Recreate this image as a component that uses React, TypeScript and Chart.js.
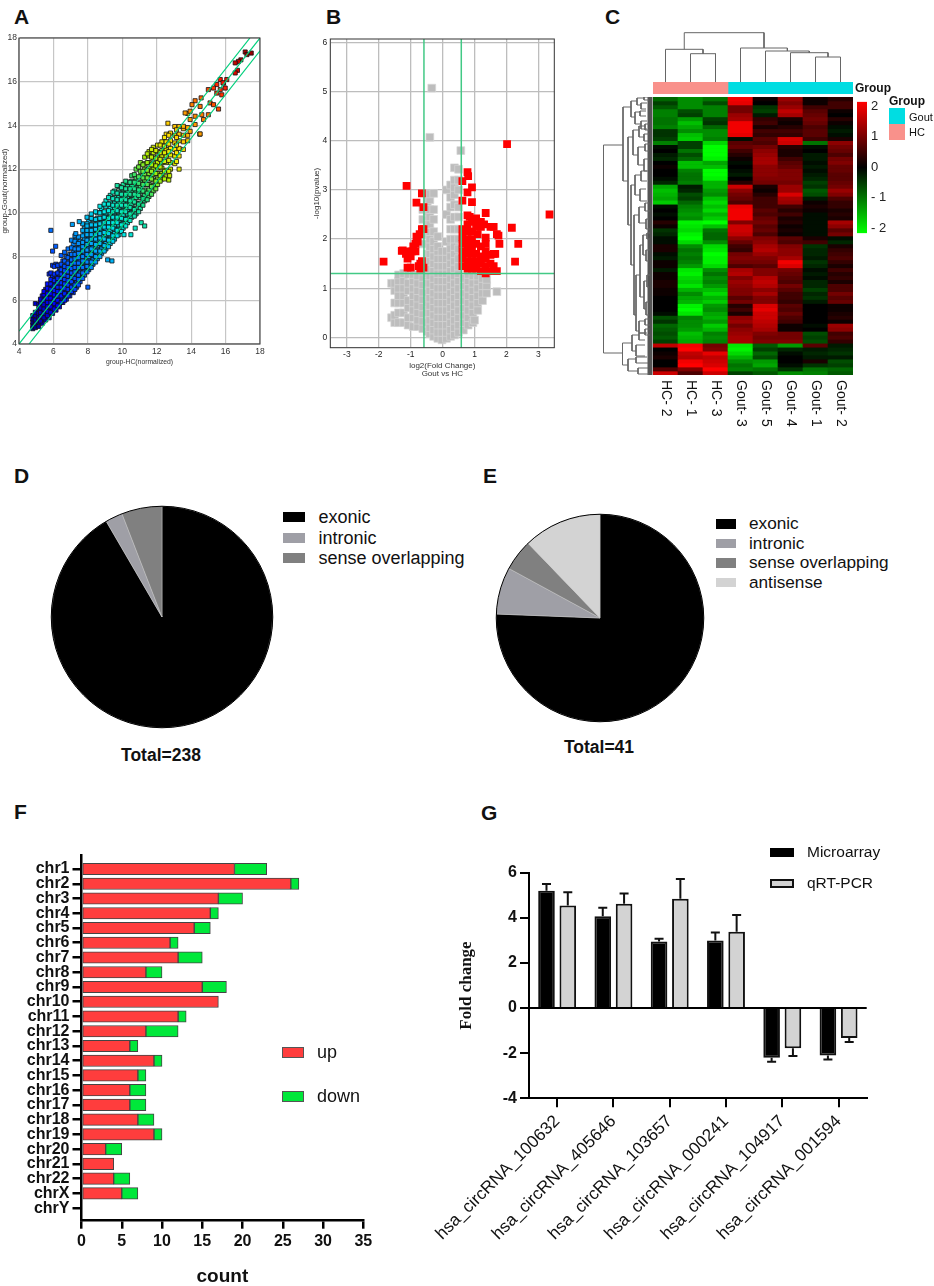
import React, { useEffect, useRef } from 'react';
import { Chart, registerables } from 'chart.js';

Chart.register(...registerables);
Chart.defaults.font.family = "'Liberation Sans', Arial, sans-serif";
Chart.defaults.color = '#222';

// Panel A: x column, then the y values read in that column
const scatterColumns: [number, number[]][] = [
  [4.8, [4.7, 4.85, 5, 5.15, 5.3]],
  [4.95, [4.75, 4.95, 5.1, 5.3, 5.45, 5.85]],
  [5.15, [4.8, 5, 5.2, 5.4, 5.6, 5.8]],
  [5.35, [4.95, 5.15, 5.35, 5.55, 5.75, 5.95, 6.2]],
  [5.55, [5.1, 5.3, 5.5, 5.7, 5.9, 6.1, 6.3, 6.5]],
  [5.75, [5.2, 5.4, 5.6, 5.8, 6, 6.2, 6.4, 6.6, 7.2]],
  [5.95, [5.4, 5.6, 5.8, 6, 6.2, 6.4, 6.6, 6.8, 7.1, 7.6]],
  [6.15, [5.55, 5.75, 5.95, 6.15, 6.35, 6.55, 6.75, 6.95, 7.15, 7.65]],
  [6.35, [5.7, 5.9, 6.1, 6.3, 6.5, 6.7, 6.9, 7.1, 7.3, 7.5]],
  [6.55, [5.9, 6.1, 6.3, 6.5, 6.7, 6.9, 7.1, 7.3, 7.5, 7.8]],
  [6.75, [6.05, 6.25, 6.45, 6.65, 6.85, 7.05, 7.25, 7.45, 7.65, 8]],
  [6.95, [6.2, 6.4, 6.6, 6.8, 7, 7.2, 7.4, 7.6, 7.8, 8.1]],
  [7.15, [6.35, 6.55, 6.75, 6.95, 7.15, 7.35, 7.55, 7.75, 7.95, 8.2, 8.55]],
  [7.35, [6.6, 6.8, 7, 7.2, 7.4, 7.6, 7.8, 8, 8.2, 8.4, 8.8]],
  [7.55, [6.85, 7.05, 7.25, 7.45, 7.65, 7.85, 8.05, 8.25, 8.5, 8.7]],
  [7.8, [7.15, 7.35, 7.55, 7.75, 7.95, 8.15, 8.35, 8.55, 8.8, 9.05, 9.3]],
  [8.05, [7.4, 7.6, 7.8, 8, 8.2, 8.4, 8.6, 8.8, 9, 9.25, 9.6]],
  [8.3, [7.65, 7.85, 8.05, 8.25, 8.45, 8.65, 8.85, 9.05, 9.25, 9.45, 9.7]],
  [8.55, [7.9, 8.1, 8.3, 8.5, 8.7, 8.9, 9.1, 9.3, 9.5, 9.75, 10]],
  [8.8, [8.15, 8.35, 8.55, 8.75, 8.95, 9.15, 9.35, 9.55, 9.75, 10, 10.2]],
  [9.05, [8.35, 8.6, 8.8, 9, 9.2, 9.4, 9.6, 9.8, 10, 10.3, 10.55]],
  [9.3, [8.6, 8.8, 9, 9.2, 9.4, 9.6, 9.8, 10, 10.2, 10.45, 10.8]],
  [9.55, [8.8, 9.05, 9.25, 9.45, 9.65, 9.85, 10.05, 10.25, 10.45, 10.7, 11]],
  [9.8, [9, 9.25, 9.45, 9.65, 9.85, 10.05, 10.25, 10.45, 10.7, 10.95, 11.2]],
  [10.05, [9.3, 9.5, 9.7, 9.9, 10.1, 10.3, 10.5, 10.7, 10.9, 11.1, 11.3]],
  [10.3, [9.55, 9.75, 9.95, 10.15, 10.35, 10.55, 10.75, 10.95, 11.2, 11.4]],
  [10.55, [9.8, 10, 10.2, 10.4, 10.6, 10.8, 11, 11.2, 11.45, 11.7]],
  [10.8, [9.95, 10.2, 10.45, 10.7, 10.95, 11.15, 11.35, 11.6, 12]],
  [11.05, [10.2, 10.45, 10.7, 10.95, 11.2, 11.4, 11.65, 11.9, 12.3]],
  [11.3, [10.55, 10.8, 11.05, 11.3, 11.5, 11.75, 12, 12.25, 12.55]],
  [11.55, [10.75, 11.05, 11.3, 11.55, 11.8, 12.05, 12.3, 12.6, 12.8]],
  [11.8, [11, 11.25, 11.5, 11.75, 12, 12.25, 12.5, 12.75, 13]],
  [12.05, [11.3, 11.55, 11.8, 12.05, 12.3, 12.55, 12.8, 13.1]],
  [12.3, [11.55, 11.8, 12.05, 12.3, 12.6, 12.85, 13.25]],
  [12.55, [11.65, 11.95, 12.3, 12.6, 12.9, 13.25, 13.6]],
  [12.8, [12, 12.3, 12.65, 12.95, 13.3, 13.65]],
  [13.05, [12.25, 12.6, 12.9, 13.2, 13.55, 13.95]],
  [13.3, [12.6, 12.95, 13.3, 13.6, 13.95]],
  [13.55, [12.9, 13.25, 13.55, 13.85]],
  [13.8, [13.3, 13.55, 13.9, 14.55]],
  [5.25, [5.05, 5.25, 5.45, 5.65, 5.9, 6.05]],
  [5.45, [5.2, 5.4, 5.6, 5.8, 6, 6.25, 6.4]],
  [5.65, [5.3, 5.5, 5.7, 5.9, 6.1, 6.3, 6.55, 6.75]],
  [5.85, [5.45, 5.7, 5.9, 6.1, 6.3, 6.5, 6.75, 6.95, 7.25]],
  [6.05, [5.6, 5.85, 6.05, 6.25, 6.45, 6.65, 6.9, 7.2, 7.55]],
  [6.25, [5.75, 6, 6.2, 6.4, 6.6, 6.8, 7, 7.25, 7.6]],
  [6.45, [5.9, 6.2, 6.4, 6.6, 6.8, 7, 7.2, 7.4, 7.65, 8.05]],
  [6.65, [6, 6.3, 6.55, 6.75, 6.95, 7.15, 7.35, 7.55, 7.8, 8.2]],
  [6.85, [6.2, 6.5, 6.7, 6.9, 7.1, 7.3, 7.5, 7.7, 7.95, 8.35]],
  [7.05, [6.4, 6.6, 6.85, 7.05, 7.25, 7.45, 7.65, 7.85, 8.1, 8.4, 8.75]],
  [7.25, [6.5, 6.7, 7, 7.3, 7.5, 7.7, 7.9, 8.1, 8.35, 8.7, 8.95]],
  [7.45, [6.7, 6.95, 7.15, 7.5, 7.7, 7.95, 8.15, 8.35, 8.6, 8.9]],
  [7.7, [7, 7.25, 7.5, 7.8, 8, 8.25, 8.45, 8.65, 8.95, 9.2, 9.5]],
  [7.95, [7.3, 7.55, 7.75, 8.1, 8.3, 8.55, 8.75, 9, 9.2, 9.5, 9.8]],
  [8.2, [7.5, 7.75, 8.1, 8.35, 8.6, 8.8, 9, 9.2, 9.45, 9.75, 9.95]],
  [8.45, [7.75, 8, 8.25, 8.55, 8.8, 9, 9.25, 9.45, 9.7, 10.05]],
  [8.7, [8, 8.25, 8.6, 8.85, 9.05, 9.3, 9.5, 9.75, 10, 10.3]],
  [8.95, [8.25, 8.5, 8.8, 9.1, 9.35, 9.55, 9.8, 10.05, 10.4]],
  [9.2, [8.45, 8.75, 9.05, 9.35, 9.55, 9.75, 10.1, 10.4, 10.7]],
  [9.45, [8.7, 8.95, 9.3, 9.55, 9.8, 10.05, 10.35, 10.65, 10.95]],
  [9.7, [8.95, 9.2, 9.55, 9.8, 10.1, 10.35, 10.6, 10.9, 11.25]],
  [9.95, [9.15, 9.45, 9.75, 10.05, 10.35, 10.6, 10.85, 11.15]],
  [10.2, [9.4, 9.7, 10.05, 10.35, 10.6, 10.85, 11.1, 11.45]],
  [10.45, [9.65, 9.95, 10.25, 10.55, 10.85, 11.1, 11.4]],
  [10.7, [9.85, 10.15, 10.5, 10.85, 11.1, 11.4, 11.75]],
  [10.95, [10.05, 10.4, 10.8, 11.05, 11.35, 11.65, 12.1]],
  [11.2, [10.35, 10.65, 11, 11.3, 11.6, 11.9, 12.2]],
  [11.45, [10.6, 10.9, 11.3, 11.6, 11.95, 12.3, 12.7]],
  [11.7, [10.85, 11.2, 11.55, 11.9, 12.2, 12.55, 12.9]],
  [11.95, [11.1, 11.45, 11.8, 12.15, 12.5, 12.85]],
  [12.2, [11.45, 11.7, 12.1, 12.45, 12.75, 13.1]],
  [12.45, [11.55, 11.9, 12.35, 12.75, 13.05, 13.45]],
  [12.7, [11.9, 12.4, 12.8, 13.15, 13.55]],
  [13.15, [12.35, 12.75, 13.1, 13.45, 13.8]],
];
const scatterExtras: [number, number][] = [
  [5.85, 9.2], [6.13, 8.47], [5.95, 8.25], [7.1, 9.47], [7.5, 9.6], [7.3, 9.05], [7.95, 9.4], [9.15, 7.85],
  [9.4, 7.8], [10.1, 9], [10.5, 9], [11.1, 9.55], [11.3, 9.4], [10.75, 9.3], [12.65, 14.1], [12.7, 11.5],
  [12.75, 11.7], [13.3, 12], [14.5, 13.6], [8, 6.6], [17.14, 17.36], [17.49, 17.31], [17.24, 17.24], [16.89, 17],
  [16.75, 16.93], [16.56, 16.86], [16.69, 16.52], [16.56, 16.4], [15.69, 16.1], [16.07, 16.1], [15.88, 15.94],
  [15.49, 15.87], [15.98, 15.71], [15.69, 15.64], [15.49, 15.48], [15.78, 15.4], [15.3, 15.71], [15, 15.64],
  [14.58, 15.26], [14.23, 15.13], [15.1, 15.03], [15.3, 14.95], [15.59, 14.75], [14.52, 14.87], [13.94, 14.65],
  [13.65, 14.57], [14.62, 14.49], [14.23, 14.42], [15, 14.49], [13.94, 14.27], [14.72, 14.27], [14.23, 14.04],
  [14.52, 13.61], [13.55, 13.96], [13.94, 13.73], [14.05, 14.95], [15.85, 15.95],
];
const scatterCenterLine = [[4, 4], [18, 18]];
const scatterUpperLine = [[4, 4.585], [17.415, 18]];
const scatterLowerLine = [[4.585, 4], [18, 17.415]];

// Panel B volcano
const volcanoGrayColumns: [number, number[]][] = [
  [-1.6, [0.4, 1.1]],
  [-1.5, [0.3, 0.45, 0.7, 0.95, 1.1]],
  [-1.38, [0.3, 0.5, 0.7, 0.85, 1, 1.15, 1.27]],
  [-1.22, [0.3, 0.5, 0.7, 0.85, 1, 1.15, 1.3]],
  [-1.08, [0.25, 0.4, 0.6, 0.75, 0.95, 1.1, 1.28]],
  [-0.92, [0.22, 0.4, 0.55, 0.7, 0.85, 1, 1.15, 1.28]],
  [-0.78, [0.22, 0.35, 0.5, 0.65, 0.8, 0.95, 1.1, 1.25]],
  [-0.62, [0.18, 0.33, 0.48, 0.62, 0.77, 0.92, 1.07, 1.22, 1.35, 1.5, 1.9, 2.4, 2.6]],
  [-0.48, [0.12, 0.3, 0.5, 0.7, 0.9, 1.1, 1.3, 1.5, 1.7, 1.9, 2.1, 2.3, 2.55, 2.75, 2.82]],
  [-0.4, [0.08, 0.2, 0.35, 0.5, 0.65, 0.8, 0.95, 1.1, 1.25, 1.4, 1.55, 1.7, 1.85, 2, 2.15, 2.3, 2.45, 2.6, 2.8, 2.92, 4.07]],
  [-0.34, [5.07]],
  [-0.28, [0.02, 0.15, 0.3, 0.45, 0.6, 0.75, 0.9, 1.05, 1.2, 1.35, 1.5, 1.65, 1.8, 1.95, 2.15, 2.4, 2.6, 2.93]],
  [-0.15, [-0.02, 0.1, 0.25, 0.4, 0.55, 0.7, 0.85, 1, 1.15, 1.3, 1.45, 1.6, 1.75, 1.85, 2.05]],
  [-0.02, [-0.05, 0.1, 0.25, 0.4, 0.55, 0.7, 0.85, 1, 1.15, 1.3, 1.45, 1.6, 1.75]],
  [0.12, [-0.02, 0.1, 0.25, 0.4, 0.55, 0.7, 0.85, 1, 1.15, 1.3, 1.45, 1.6, 1.75, 1.95, 2.5, 3]],
  [0.25, [0.02, 0.15, 0.3, 0.45, 0.6, 0.75, 0.9, 1.05, 1.2, 1.35, 1.5, 1.65, 1.8, 2, 2.2, 2.4, 2.65, 2.85, 3.1]],
  [0.37, [0.05, 0.2, 0.35, 0.5, 0.65, 0.8, 0.95, 1.1, 1.25, 1.4, 1.55, 1.7, 1.85, 2, 2.2, 2.45, 2.7, 2.9, 3.05, 3.2, 3.45]],
  [0.5, [0.1, 0.25, 0.4, 0.55, 0.7, 0.85, 1, 1.15, 1.3, 1.45, 1.6, 1.8, 2, 2.2, 2.45, 2.65, 3, 3.2, 3.42]],
  [0.57, [3.8]],
  [0.65, [0.15, 0.3, 0.45, 0.6, 0.75, 0.9, 1.05, 1.2]],
  [0.8, [0.25, 0.4, 0.55, 0.7, 0.85, 1, 1.15, 1.28]],
  [0.95, [0.3, 0.5, 0.65, 0.8, 0.95, 1.1, 1.25]],
  [1, [0.35]],
  [1.1, [0.55, 0.7, 0.85, 1, 1.15, 1.25]],
  [1.25, [0.75, 0.9, 1.05, 1.2]],
  [1.38, [0.9, 1.05, 1.18]],
  [1.7, [0.93]],
];
const volcanoRedColumns: [number, number[]][] = [
  [0.62, [1.45, 1.6, 1.75, 1.9, 2.05, 2.2, 2.78, 3.18]],
  [0.78, [1.4, 1.55, 1.7, 1.85, 2, 2.15, 2.3, 2.48, 2.95, 3.36]],
  [0.92, [1.4, 1.55, 1.7, 1.85, 2, 2.15, 2.4, 2.75, 3.05]],
  [1.05, [1.4, 1.55, 1.7, 1.9, 2.25, 2.42]],
  [1.2, [1.35, 1.5, 1.65, 1.85, 2.25, 2.35]],
  [1.35, [1.3, 1.45, 1.6, 1.75, 1.9, 2.03, 2.53]],
  [1.5, [1.35, 1.5, 1.68, 2.25]],
  [1.6, [1.45, 1.7, 2.25]],
  [1.7, [1.35, 2.1]],
];
const volcanoRedExtras: [number, number][] = [
  [0.8, 3.28], [1.75, 2.07], [1.78, 1.9], [2.17, 2.23], [2.37, 1.9], [2.27, 1.54], [2.02, 3.93], [3.35, 2.5],
  [-1.13, 3.08], [-0.65, 2.93], [-0.82, 2.74], [-0.6, 2.65], [-0.6, 2.2], [-0.72, 2.1], [-0.82, 2.05], [-0.85, 1.9],
  [-0.92, 1.85], [-0.95, 1.75], [-1.25, 1.77], [-1.1, 1.75], [-1, 1.65], [-1.1, 1.6], [-1.1, 1.42], [-0.7, 1.5],
  [-0.7, 1.4], [-0.6, 1.42], [-1.85, 1.54], [-1, 1.42], [-0.65, 2.2], [-0.78, 1.95], [-0.85, 1.75], [-1.15, 1.7],
  [-1.28, 1.76], [-0.75, 1.45], [-0.65, 1.55], [1.1, 2.1], [1, 2.35], [1.3, 2.3], [0.85, 2.45], [1.65, 1.7],
];
const volcanoFoldCuts = [-0.585, 0.585];
const volcanoPCut = 1.3;

// Panel C heatmap, one row per band, columns as in sampleLabels
const sampleLabels = ['HC- 2', 'HC- 1', 'HC- 3', 'Gout- 3', 'Gout- 5', 'Gout- 4', 'Gout- 1', 'Gout- 2'];
const heatRows: number[][] = [
  [-0.8, -1.1, -0.9, 1.9, 0.1, 1.2, 0.1, 0.3],
  [-0.5, -1.1, -0.6, 1.8, 0, 1, 0.1, 0.5],
  [-0.7, -1.1, -1, 0.9, -0.4, 1.2, 0.5, 0.5],
  [-1, -0.6, -1, 0.9, -0.5, 1.5, 0.7, 0.1],
  [-1, -0.5, -1, 1.2, -0.2, 1.3, 0.8, 0],
  [-0.9, -1.2, -0.5, 1.3, 0.4, 0.2, 0.9, 0.3],
  [-0.9, -1.5, -0.4, 1.9, 0.5, 0.1, 0.8, 0.1],
  [-1, -1.3, -0.8, 1.9, 0.2, 0.3, 0.6, -0.1],
  [-0.4, -1.1, -1.1, 1.9, 0.5, 0.5, 0.7, -0.2],
  [-0.4, -1.5, -1.1, 1.8, 0.4, 0.4, 0.7, -0.1],
  [-0.5, -1.6, -1, -0.1, 0.7, 1.7, 0.5, 0.2],
  [-1, -0.5, -1.7, 0.7, 0.6, 1.6, -0.9, 1.1],
  [-0.1, -0.5, -2, 0.8, 0.9, 0.3, -0.1, 0.9],
  [0, -0.9, -2, 0.5, 1.1, 0.2, 0, 0.8],
  [-0.2, -0.6, -2, 0.3, 1.2, 0.2, -0.2, 0.6],
  [-0.3, -0.8, -1.9, 0.1, 1.3, 0.5, -0.2, 0.9],
  [0, -1.5, -1.3, -0.1, 1.3, 0.7, -0.1, 1],
  [0.1, -1.5, -1.5, 0, 1.1, 0.8, -0.2, 0.8],
  [0, -1, -2, -0.1, 1.1, 1, -0.1, 0.8],
  [0, -0.9, -2, -0.2, 1.1, 1, -0.2, 0.7],
  [-0.1, -0.9, -1.9, 0, 1, 1, -0.3, 0.7],
  [-0.3, -1, -1.4, 0.3, 0.9, 0.9, -0.5, 0.8],
  [-1.3, -0.2, -1.4, 1.6, 0.2, 1.2, -0.4, 0.9],
  [-1.5, -0.3, -1.2, 1.1, 0.1, 1.2, -0.7, 1.2],
  [-1.4, -0.6, -1.1, 0.9, 0.3, 1.7, -0.6, 1],
  [-1.3, -0.5, -1.5, 0.8, 0.5, 1.3, -0.2, 0.6],
  [-1.6, -0.8, -1.7, 0.6, 0.5, 1.2, 0.1, 0.4],
  [-0.1, -1, -1.5, 1.8, 0.5, 0.5, 0.2, 0.4],
  [0, -1.1, -1.7, 1.9, 0.7, 0.3, 0.1, 0.2],
  [-0.1, -1.2, -1.4, 1.9, 0.6, 0.5, -0.1, 0.3],
  [0, -1.1, -1.6, 1.9, 0.8, 0.2, -0.1, 0.2],
  [0.3, -1.9, -2, 1, 0.9, 0.3, -0.1, 1.3],
  [0.1, -1.8, -1.5, 1.6, 0.7, 0.1, -0.1, 1.1],
  [-0.4, -1.7, -0.9, 1.6, 0.8, 0.2, -0.1, 0.7],
  [-0.3, -1.9, -0.8, 1.5, 0.6, 0.1, -0.1, 0.9],
  [-0.1, -2, -0.8, 1.1, 1, 0.7, 0.2, -0.1],
  [-0.1, -1.7, -1.1, 0.8, 1.1, 0.6, 0.5, -0.3],
  [0.2, -1.1, -1.7, 0.5, 1.3, 1, -0.4, 0.2],
  [0.2, -0.9, -1.8, 0.4, 1.4, 1.1, -0.3, 0.4],
  [-0.1, -1, -2, 0.9, 1.2, 1.1, -0.3, 0.5],
  [-0.2, -0.9, -1.9, 1, 1, 1.3, -0.2, 0.6],
  [0.1, -1, -1.9, 0.9, 0.9, 1.9, -0.4, 0.4],
  [0.1, -1.2, -1.7, 0.6, 0.7, 1.7, -0.3, 0.2],
  [-0.2, -1.8, -1.1, 1.3, 1, 0.9, -0.1, 0.5],
  [0.1, -1.9, -0.9, 1.4, 1, 0.8, -0.2, 0.3],
  [0.1, -1.7, -1.1, 1, 1.4, 0.7, -0.1, 0.4],
  [0.2, -1.6, -1, 1.2, 1.5, 0.6, -0.3, 0.2],
  [0.2, -1.8, -1.2, 1.1, 1.4, 0.9, -0.3, 0.6],
  [0.1, -1.4, -1.5, 1, 1.1, 0.7, -0.5, 0.6],
  [0.1, -1.1, -1.7, 1, 1.3, 0.5, -0.3, 0.9],
  [0, -1.3, -1.4, 0.7, 1, 0.5, -0.4, 0.7],
  [0, -1.4, -1.6, 0.9, 1, 0.4, -0.2, 0.8],
  [0, -1.9, -1.2, 0.3, 1.7, 0.7, 0, 0.1],
  [0, -2, -1.1, 0.5, 1.8, 0.6, 0, 0.1],
  [-0.1, -1.8, -1.3, 0.2, 1.6, 0.8, 0, 0.2],
  [-0.6, -1, -1.4, 1.1, 1.6, 0.6, 0, 0.3],
  [-0.4, -1.1, -1.2, 1.2, 1.5, 0.5, 0, 0.1],
  [-0.8, -1.1, -1.6, 0.9, 1.4, 0.1, -0.1, 1.2],
  [-0.7, -1.2, -1.4, 1.1, 1.3, 0.1, 0, 1.1],
  [-0.6, -1.5, -1, 1.2, 1, 0.9, -0.6, 0.5],
  [-0.7, -1.4, -1.1, 1.3, 0.9, 0.9, -0.5, 0.6],
  [-0.5, -1.3, -1, 1.3, 1, 1, -0.6, 0.4],
  [1.5, 1.9, 0.9, -1.8, -0.7, -1.2, 0.7, -0.2],
  [0, 2, 1, -1.9, -0.5, -0.3, -0.2, -0.3],
  [0.1, 1.5, 1.8, -1.7, -0.8, -0.1, -0.3, -0.4],
  [0.2, 1.4, 1.5, -1.4, -0.6, 0, -0.2, -0.2],
  [0, 1.9, 1.6, -1.1, -1.2, 0, 0.2, -0.6],
  [0, 2, 1.7, -0.9, -1.3, -0.1, -0.4, -0.5],
  [0.6, 1, 2, -1, -0.9, -0.4, -0.9, -0.8],
  [1.6, 0.6, 1.6, -0.5, -0.7, -1.1, -1, -0.7],
];
const groupNames = ['HC', 'Gout'];
const groupSizes = [3, 5];
const colorbarTicks = [2, 1, 0, -1, -2];

// dendrogram merges: height, first child pos, second child pos, first child height, second child height
const topMerges = [
  [49.3, 1.25, 4.44, 32.7, 34],
  [32.7, 0.5, 2, 0, 28.3],
  [28.3, 1.5, 2.5, 0, 0],
  [34, 3.5, 5.375, 0, 31],
  [31, 4.5, 6.25, 0, 29.3],
  [29.3, 5.5, 7, 0, 25],
  [25, 6.5, 7.5, 0, 0],
];
const leftMerges = [
  [0.5, 48, 256, 20, 19.5],
  [20, 10, 84, 28, 25],
  [28, 4, 20, 34, 32],
  [34, 1, 8, 41, 38],
  [41, 0, 3, 46, 46],
  [38, 6, 12, 44, 43],
  [32, 15, 27, 37, 38],
  [37, 14, 19, 43, 43],
  [38, 24, 32, 44, 44],
  [25, 40, 128, 30, 28],
  [30, 33, 58, 36, 35],
  [36, 29, 40, 42, 41],
  [42, 27, 33, 46, 46],
  [41, 37, 44, 46, 45],
  [35, 50, 68, 42, 41],
  [42, 47, 54, 47, 46],
  [41, 62, 74, 46, 45],
  [28, 88, 168, 32, 31],
  [32, 78, 98, 38, 37],
  [38, 74, 84, 44, 44],
  [37, 92, 104, 43, 44],
  [31, 118, 218, 36, 33],
  [36, 110, 126, 42, 43],
  [42, 106, 114, 46, 47],
  [43, 122, 132, 46, 47],
  [33, 178, 234, 37, 36],
  [37, 148, 200, 40, 41],
  [40, 138, 158, 44, 43],
  [44, 136, 142, 47, 47],
  [43, 153, 164, 47, 46],
  [41, 184, 212, 44, 43],
  [44, 178, 190, 47, 46],
  [43, 205, 218, 46, 46],
  [36, 224, 236, 42, 42],
  [42, 222, 228, 47, 47],
  [42, 232, 238, 47, 47],
  [19.5, 246, 268, 29, 25],
  [29, 238, 254, 36, 33],
  [36, 236, 243, 44, 42],
  [33, 248, 259, 42, 42],
  [25, 262, 274, 33, 35],
  [33, 260, 266, 44, 45],
  [35, 271, 277, 45, 46],
];
const leftDendroBlock = [[47, 0], [47, 278]];

const pieDLabels = ['exonic', 'intronic', 'sense overlapping'];
const pieDValues = [218, 6, 14];
const pieELabels = ['exonic', 'intronic', 'sense overlapping', 'antisense'];
const pieEValues = [31, 3, 2, 5];
const pieColors = ['#000000', '#9f9fa6', '#808080', '#d3d3d3'];

const chrLabels = ['chr1', 'chr2', 'chr3', 'chr4', 'chr5', 'chr6', 'chr7', 'chr8', 'chr9', 'chr10', 'chr11', 'chr12',
  'chr13', 'chr14', 'chr15', 'chr16', 'chr17', 'chr18', 'chr19', 'chr20', 'chr21', 'chr22', 'chrX', 'chrY'];
const upCounts = [19, 26, 17, 16, 14, 11, 12, 8, 15, 17, 12, 8, 6, 9, 7, 6, 6, 7, 9, 3, 4, 4, 5, 0];
const downCounts = [4, 1, 3, 1, 2, 1, 3, 2, 3, 0, 1, 4, 1, 1, 1, 2, 2, 2, 1, 2, 0, 2, 2, 0];

const circLabels = ['hsa_circRNA_100632', 'hsa_circRNA_405646', 'hsa_circRNA_103657', 'hsa_circRNA_000241', 'hsa_circRNA_104917', 'hsa_circRNA_001594'];
const microarrayValues = [5.2, 4.07, 2.95, 3, -2.2, -2.1];
const microarrayWhisker = [5.5, 4.45, 3.07, 3.35, -2.38, -2.28];
const qpcrValues = [4.55, 4.62, 4.85, 3.38, -1.78, -1.33];
const qpcrWhisker = [5.13, 5.08, 5.72, 4.13, -2.12, -1.5];

const jetStops: [number, number[]][] = [
  [4.5, [0, 0, 110]], [6, [0, 0, 255]], [8, [0, 144, 255]], [9.5, [0, 232, 232]], [11, [32, 224, 128]],
  [12, [176, 240, 0]], [13, [255, 232, 0]], [14.5, [255, 128, 0]], [16, [255, 16, 0]], [17.5, [144, 0, 0]],
];

const jetColor = (v: number) => {
  for (let i = 1; i < jetStops.length; i++) {
    if (v <= jetStops[i][0]) {
      const [a, ca] = jetStops[i - 1];
      const [b, cb] = jetStops[i];
      const t = Math.max(0, (v - a) / (b - a));
      return `rgb(${ca.map((c, k) => Math.round(c + (cb[k] - c) * t)).join(',')})`;
    }
  }
  return 'rgb(144,0,0)';
};

const heatColor = (v: number) => {
  const c = Math.min(255, Math.round((Math.abs(v) / 2) * 255));
  return v >= 0 ? `rgb(${c},0,0)` : `rgb(0,${c},0)`;
};

const expand = (cols: [number, number[]][]) => cols.flatMap(([x, ys]) => ys.map((y) => ({ x, y })));
const toPoints = (pairs: number[][]) => pairs.map(([x, y]) => ({ x, y }));
const fixW = (w: number) => (s: any) => { s.width = w; };
const fixH = (h: number) => (s: any) => { s.height = h; };
const onlyTicks = (vals: number[]) => (s: any) => { s.ticks = vals.map((value) => ({ value })); };

// top and right edge of the frame, chart.js only has the two axis borders
const framePlugin = {
  id: 'frame',
  afterDraw(chart: any) {
    const { ctx, chartArea: a } = chart;
    ctx.save();
    ctx.strokeStyle = '#333';
    ctx.lineWidth = 1;
    ctx.strokeRect(a.left, a.top, a.right - a.left, a.bottom - a.top);
    ctx.restore();
  },
};

const lineSet = (pts: number[][], color: string, width: number) => ({
  type: 'line',
  data: toPoints(pts),
  showLine: true,
  borderColor: color,
  borderWidth: width,
  pointRadius: 0,
});

const allScatter = [...expand(scatterColumns), ...toPoints(scatterExtras)];

const scatterConfig: any = {
  type: 'scatter',
  data: {
    datasets: [
      lineSet(scatterCenterLine, '#00cf7c', 1.2),
      lineSet(scatterUpperLine, '#00cf7c', 1.2),
      lineSet(scatterLowerLine, '#00cf7c', 1.2),
      {
        data: allScatter,
        pointStyle: 'rect',
        pointRadius: 2.9,
        backgroundColor: allScatter.map((p) => jetColor((p.x + p.y) / 2)),
        borderColor: '#111',
        borderWidth: 0.8,
      },
    ],
  },
  options: {
    responsive: false,
    animation: false,
    layout: { padding: { top: 8, right: 40 } },
    plugins: { legend: { display: false }, tooltip: { enabled: false } },
    scales: {
      x: {
        type: 'linear', min: 4, max: 18, afterFit: fixH(26),
        ticks: { stepSize: 2, font: { size: 8.5 }, padding: 3, color: '#333', maxRotation: 0 },
        grid: { color: '#c6c6c6', lineWidth: 1.2, drawTicks: false },
        title: { display: true, text: 'group-HC(normalized)', font: { size: 6.8, lineHeight: 1.1 }, padding: { top: 0, bottom: 4 }, color: '#333' },
      },
      y: {
        min: 4, max: 18, afterFit: fixW(19),
        ticks: { stepSize: 2, font: { size: 8.5 }, padding: 2, color: '#333' },
        grid: { color: '#c6c6c6', lineWidth: 1.2, drawTicks: false },
        title: { display: true, text: 'group-Gout(normalized)', font: { size: 8, lineHeight: 1.1 }, padding: { top: 0, bottom: 0 }, color: '#333' },
      },
    },
  },
  plugins: [framePlugin],
};

const volcanoConfig: any = {
  type: 'scatter',
  data: {
    datasets: [
      lineSet([[volcanoFoldCuts[0], -0.21], [volcanoFoldCuts[0], 6.07]], '#42c985', 1.5),
      lineSet([[volcanoFoldCuts[1], -0.21], [volcanoFoldCuts[1], 6.07]], '#42c985', 1.5),
      lineSet([[-3.52, volcanoPCut], [3.5, volcanoPCut]], '#42c985', 1.5),
      {
        data: [...expand(volcanoRedColumns), ...toPoints(volcanoRedExtras)],
        pointStyle: 'rect', pointRadius: 5.5, backgroundColor: '#ff0000', borderWidth: 0,
      },
      {
        data: expand(volcanoGrayColumns),
        pointStyle: 'rect', pointRadius: 5.5, backgroundColor: '#bdbdbd', borderColor: '#d6d6d6', borderWidth: 0.7,
      },
    ],
  },
  options: {
    responsive: false,
    animation: false,
    layout: { padding: { top: 9, right: 35.7 } },
    plugins: { legend: { display: false }, tooltip: { enabled: false } },
    scales: {
      x: {
        type: 'linear', min: -3.52, max: 3.5, afterFit: fixH(32.3),
        afterBuildTicks: onlyTicks([-3, -2, -1, 0, 1, 2, 3]),
        ticks: { font: { size: 8.5 }, padding: 2, color: '#222', maxRotation: 0 },
        grid: { color: '#bdbdbd', lineWidth: 1.3, drawTicks: false },
        title: { display: true, text: ['log2(Fold Change)', 'Gout vs HC'], font: { size: 8, lineHeight: 1.1 }, padding: { top: 0, bottom: 1.5 }, color: '#333' },
      },
      y: {
        min: -0.21, max: 6.07, afterFit: fixW(30.3),
        afterBuildTicks: onlyTicks([0, 1, 2, 3, 4, 5, 6]),
        ticks: { font: { size: 8.5 }, padding: 3, color: '#222' },
        grid: { color: '#bdbdbd', lineWidth: 1.3, drawTicks: false },
        title: { display: true, text: '-log10(pvalue)', font: { size: 8, lineHeight: 1.1 }, padding: { top: 12, bottom: 0 }, color: '#333' },
      },
    },
  },
  plugins: [framePlugin],
};

// black under the bands so the sub-pixel seams stay dark, sample names under the columns
const heatPlugin = {
  id: 'heatExtras',
  beforeDatasetsDraw(chart: any) {
    const { ctx, chartArea: a } = chart;
    ctx.save();
    ctx.fillStyle = '#000';
    ctx.fillRect(a.left, a.top, a.right - a.left, a.bottom - a.top);
    ctx.restore();
  },
  afterDraw(chart: any) {
    const { ctx, chartArea: a, scales } = chart;
    ctx.save();
    ctx.fillStyle = '#111';
    ctx.font = "14px 'Liberation Sans'";
    ctx.textAlign = 'left';
    ctx.textBaseline = 'middle';
    sampleLabels.forEach((label, i) => {
      ctx.save();
      ctx.translate(scales.x.getPixelForValue(i), a.bottom + 5);
      ctx.rotate(Math.PI / 2);
      ctx.fillText(label, 0, 0);
      ctx.restore();
    });
    ctx.restore();
  },
};

const hiddenAxes = (x: any, y: any) => ({
  x: { display: false, ...x },
  y: { display: false, ...y },
});

const heatConfig: any = {
  type: 'bar',
  data: {
    labels: sampleLabels,
    datasets: heatRows.map((row) => ({
      data: row.map(() => 1),
      backgroundColor: row.map(heatColor),
      borderWidth: 0,
      barPercentage: 1,
      categoryPercentage: 1,
    })),
  },
  options: {
    responsive: false,
    animation: false,
    layout: { padding: { bottom: 62 } },
    plugins: { legend: { display: false }, tooltip: { enabled: false } },
    scales: hiddenAxes({ stacked: true }, { stacked: true, min: 0, max: heatRows.length, reverse: true }),
  },
  plugins: [heatPlugin],
};

const groupConfig: any = {
  type: 'bar',
  data: {
    labels: ['Group'],
    datasets: groupNames.map((name, i) => ({
      label: name,
      data: [groupSizes[i]],
      backgroundColor: name === 'HC' ? '#f9918b' : '#00dde2',
      borderWidth: 0,
      barPercentage: 1,
      categoryPercentage: 1,
    })),
  },
  options: {
    indexAxis: 'y',
    responsive: false,
    animation: false,
    plugins: { legend: { display: false }, tooltip: { enabled: false } },
    scales: hiddenAxes({ stacked: true, min: 0, max: 8 }, { stacked: true }),
  },
};

const colorbarConfig: any = {
  type: 'bar',
  data: {
    labels: ['key'],
    datasets: [{
      data: [[-2.17, 2.15]],
      barPercentage: 1,
      categoryPercentage: 1,
      borderWidth: 0,
      backgroundColor(context: any) {
        const { ctx, chartArea } = context.chart;
        if (!chartArea) return '#000';
        const g = ctx.createLinearGradient(0, chartArea.top, 0, chartArea.bottom);
        g.addColorStop(0, '#ff0000');
        g.addColorStop(0.5, '#000000');
        g.addColorStop(1, '#00ff00');
        return g;
      },
    }],
  },
  options: {
    responsive: false,
    animation: false,
    layout: { padding: { top: 7, bottom: 8 } },
    plugins: { legend: { display: false }, tooltip: { enabled: false } },
    scales: {
      x: { display: false },
      y: {
        position: 'right', min: -2.17, max: 2.15, afterFit: fixW(30),
        afterBuildTicks: onlyTicks(colorbarTicks),
        border: { display: false },
        grid: { display: false, drawTicks: false },
        ticks: { font: { size: 13 }, padding: 4, color: '#222', callback: (v: number) => (v < 0 ? `- ${-v}` : `${v}`) },
      },
    },
  },
};

const breakPoint = { x: NaN, y: NaN };

const topDendroConfig: any = {
  type: 'scatter',
  data: {
    datasets: [{
      data: topMerges.flatMap(([h, a, b, ca, cb]) => [
        { x: a, y: ca }, { x: a, y: h }, { x: b, y: h }, { x: b, y: cb }, breakPoint,
      ]),
      showLine: true, spanGaps: false, borderColor: '#666', borderWidth: 1, pointRadius: 0,
    }],
  },
  options: {
    responsive: false,
    animation: false,
    plugins: { legend: { display: false }, tooltip: { enabled: false } },
    scales: hiddenAxes({ type: 'linear', min: 0, max: 8 }, { min: 0, max: 50 }),
  },
};

const leftDendroConfig: any = {
  type: 'scatter',
  data: {
    datasets: [
      {
        data: leftMerges.flatMap(([h, a, b, ca, cb]) => [
          { x: ca, y: a }, { x: h, y: a }, { x: h, y: b }, { x: cb, y: b }, breakPoint,
        ]),
        showLine: true, spanGaps: false, borderColor: '#666', borderWidth: 1, pointRadius: 0,
      },
      lineSet(leftDendroBlock, '#555', 5),
    ],
  },
  options: {
    responsive: false,
    animation: false,
    plugins: { legend: { display: false }, tooltip: { enabled: false } },
    scales: hiddenAxes({ type: 'linear', min: 0, max: 50 }, { min: 0, max: 278, reverse: true }),
  },
};

// the slices only have a pale divider, the thin black edge runs round the outside
const pieRimPlugin = {
  id: 'pieRim',
  afterDatasetsDraw(chart: any) {
    const arc = chart.getDatasetMeta(0).data[0];
    if (!arc) return;
    const { ctx } = chart;
    ctx.save();
    ctx.strokeStyle = '#000';
    ctx.lineWidth = 1;
    ctx.beginPath();
    ctx.arc(arc.x, arc.y, arc.outerRadius, 0, Math.PI * 2);
    ctx.stroke();
    ctx.restore();
  },
};

const pieConfig = (labels: string[], values: number[]): any => ({
  type: 'pie',
  data: {
    labels,
    datasets: [{ data: values, backgroundColor: pieColors, borderColor: '#c4c4c4', borderWidth: 0.5 }],
  },
  options: {
    responsive: false,
    animation: false,
    layout: { padding: 2 },
    plugins: { legend: { display: false }, tooltip: { enabled: false } },
  },
  plugins: [pieRimPlugin],
});

const chrPoints = (vals: number[]) => vals.map((v, i) => ({ x: v === 0 ? null : v, y: i }));

const chrConfig: any = {
  type: 'bar',
  data: {
    datasets: [
      { label: 'up', data: chrPoints(upCounts), backgroundColor: '#ff3d3d' },
      { label: 'down', data: chrPoints(downCounts), backgroundColor: '#00e83a' },
    ].map((d) => ({ ...d, borderColor: '#444', borderWidth: 1, borderSkipped: false, barThickness: 11.5 })),
  },
  options: {
    indexAxis: 'y',
    responsive: false,
    animation: false,
    layout: { padding: { top: 15, right: 36.7 } },
    plugins: { legend: { display: false }, tooltip: { enabled: false } },
    scales: {
      x: {
        type: 'linear', stacked: true, min: 0, max: 35, afterFit: fixH(65.3),
        border: { color: '#000', width: 2.5 },
        grid: { drawOnChartArea: false, color: '#000', lineWidth: 2.5, tickLength: 8 },
        ticks: { stepSize: 5, font: { size: 16, weight: 'bold' }, color: '#111', padding: 3, maxRotation: 0 },
        title: { display: true, text: 'count', font: { size: 19, weight: 'bold', lineHeight: 1 }, color: '#111', padding: { top: 0, bottom: 0 } },
      },
      y: {
        type: 'linear', stacked: true, reverse: true, offset: false, min: -0.95, max: 23.85, afterFit: fixW(81.5),
        afterBuildTicks: onlyTicks(chrLabels.map((_, i) => i)),
        border: { color: '#000', width: 2.5 },
        grid: { offset: false, drawOnChartArea: false, color: '#000', lineWidth: 2.5, tickLength: 9 },
        ticks: { autoSkip: false, font: { size: 16, weight: 'bold' }, color: '#111', padding: 3, callback: (v: number) => chrLabels[v] },
      },
    },
  },
};

// whiskers go behind the bars, only the outward half shows
const whiskerPlugin = {
  id: 'whiskers',
  beforeDatasetsDraw(chart: any) {
    const { ctx, scales } = chart;
    ctx.save();
    ctx.strokeStyle = '#111';
    ctx.lineWidth = 2;
    [microarrayWhisker, qpcrWhisker].forEach((ends, d) => {
      chart.getDatasetMeta(d).data.forEach((bar: any, i: number) => {
        const y = scales.y.getPixelForValue(ends[i]);
        ctx.beginPath();
        ctx.moveTo(bar.x, bar.y);
        ctx.lineTo(bar.x, y);
        ctx.moveTo(bar.x - 4.5, y);
        ctx.lineTo(bar.x + 4.5, y);
        ctx.stroke();
      });
    });
    ctx.restore();
  },
};

const foldConfig: any = {
  type: 'bar',
  data: {
    labels: circLabels,
    datasets: [
      { label: 'Microarray', data: microarrayValues, backgroundColor: '#000' },
      { label: 'qRT-PCR', data: qpcrValues, backgroundColor: '#d3d3d3' },
    ].map((d) => ({ ...d, borderColor: '#111', borderWidth: 2, borderSkipped: 'start', categoryPercentage: 0.757, barPercentage: 0.78 })),
  },
  options: {
    responsive: false,
    animation: false,
    layout: { padding: { top: 32.7, right: 67.3 } },
    plugins: { legend: { display: false }, tooltip: { enabled: false } },
    scales: {
      x: {
        // the long slanted names must not push the plot area to the right
        afterFit: (s: any) => { s.height = 187.7; s.paddingLeft = 0; s.paddingRight = 0; },
        border: { color: '#000', width: 2 },
        grid: { offset: false, drawOnChartArea: false, color: '#000', lineWidth: 2, tickLength: 9 },
        ticks: { autoSkip: false, font: { size: 17.2 }, color: '#111', minRotation: 45, maxRotation: 45, padding: 4 },
      },
      y: {
        min: -4, max: 6, afterFit: fixW(99),
        border: { color: '#000', width: 2 },
        grid: {
          color: (c: any) => (c.tick.value === 0 ? '#000' : 'rgba(0,0,0,0)'),
          lineWidth: 2, tickColor: '#000', tickLength: 9,
        },
        ticks: { stepSize: 2, font: { size: 16, weight: 'bold' }, color: '#111', padding: 3 },
        title: {
          display: true, text: 'Fold change', color: '#111',
          font: { family: "'Liberation Serif', serif", size: 17, weight: 'bold', lineHeight: 1.1 },
          padding: { top: 27, bottom: 0 },
        },
      },
    },
  },
  plugins: [whiskerPlugin],
};

function ChartBox({ left, top, width, height, config }: { left: number; top: number; width: number; height: number; config: any }) {
  const ref = useRef<HTMLCanvasElement>(null);
  useEffect(() => {
    if (!ref.current) return;
    const chart = new Chart(ref.current, config);
    return () => chart.destroy();
  }, [config]);
  return <canvas ref={ref} width={width} height={height} style={{ position: 'absolute', left, top, width, height }} />;
}

function Txt({ x, y, size, bold, center, children }: { x: number; y: number; size: number; bold?: boolean; center?: boolean; children: React.ReactNode }) {
  return (
    <div style={{
      position: 'absolute', left: x, top: y, fontSize: size, fontWeight: bold ? 700 : 400, lineHeight: 1, color: '#111', whiteSpace: 'nowrap',
      transform: center ? 'translate(-50%,-50%)' : 'translateY(-50%)',
    }}>
      {children}
    </div>
  );
}

function Box({ x, y, w, h, color, border }: { x: number; y: number; w: number; h: number; color: string; border?: string }) {
  return <div style={{ position: 'absolute', left: x, top: y, width: w, height: h, background: color, border, boxSizing: 'border-box' }} />;
}

const panelLetters: [string, number, number][] = [
  ['A', 14, 16], ['B', 326, 16], ['C', 605, 16], ['D', 14, 475], ['E', 483, 475], ['F', 14, 811], ['G', 481, 812],
];

const pieD = pieConfig(pieDLabels, pieDValues);
const pieE = pieConfig(pieELabels, pieEValues);

export default function App() {
  return (
    <div style={{ position: 'absolute', left: 0, top: 0, width: 934, height: 1286, background: '#fff', overflow: 'hidden', fontFamily: "'Liberation Sans', Arial, sans-serif" }}>
      {panelLetters.map(([t, x, y]) => <Txt key={t} x={x} y={y} size={21} bold>{t}</Txt>)}

      <ChartBox left={0} top={30} width={300} height={340} config={scatterConfig} />
      <ChartBox left={300} top={30} width={290} height={350} config={volcanoConfig} />

      <ChartBox left={653} top={32} width={200} height={50} config={topDendroConfig} />
      <ChartBox left={653} top={82} width={200} height={12} config={groupConfig} />
      <ChartBox left={653} top={97} width={200} height={340} config={heatConfig} />
      <ChartBox left={603} top={97} width={50} height={278} config={leftDendroConfig} />
      <ChartBox left={857} top={90} width={40} height={155} config={colorbarConfig} />
      <Txt x={855} y={88} size={12} bold>Group</Txt>
      <Txt x={889} y={101} size={12} bold>Group</Txt>
      <Box x={889} y={108} w={16} h={16} color="#00dde2" />
      <Box x={889} y={124} w={16} h={16} color="#f9918b" />
      <Txt x={909} y={117} size={11}>Gout</Txt>
      <Txt x={909} y={132} size={11}>HC</Txt>

      <ChartBox left={49} top={504} width={226} height={226} config={pieD} />
      {pieDLabels.map((t, i) => (
        <React.Fragment key={t}>
          <Box x={283} y={512 + i * 20.7} w={22} h={10} color={pieColors[i]} />
          <Txt x={318.5} y={517 + i * 20.7} size={18}>{t}</Txt>
        </React.Fragment>
      ))}
      <Txt x={161} y={756} size={17.5} bold center>Total=238</Txt>

      <ChartBox left={494} top={512} width={212} height={212} config={pieE} />
      {pieELabels.map((t, i) => (
        <React.Fragment key={t}>
          <Box x={716} y={519 + i * 19.5} w={20} h={9.5} color={pieColors[i]} />
          <Txt x={749} y={524 + i * 19.5} size={17.2}>{t}</Txt>
        </React.Fragment>
      ))}
      <Txt x={599} y={748} size={17.5} bold center>Total=41</Txt>

      <ChartBox left={0} top={840} width={400} height={446} config={chrConfig} />
      <Box x={282} y={1047} w={22} h={11} color="#ff3d3d" border="1px solid #555" />
      <Box x={282} y={1091} w={22} h={11} color="#00e83a" border="1px solid #555" />
      <Txt x={317} y={1052} size={18}>up</Txt>
      <Txt x={317} y={1096} size={18}>down</Txt>

      <ChartBox left={430} top={840} width={504} height={446} config={foldConfig} />
      <Box x={770} y={848} w={24} h={9} color="#000" />
      <Box x={770} y={878.5} w={24} h={9} color="#d3d3d3" border="2px solid #111" />
      <Txt x={807} y={852} size={15.5}>Microarray</Txt>
      <Txt x={807} y={882.5} size={15.5}>qRT-PCR</Txt>
    </div>
  );
}
